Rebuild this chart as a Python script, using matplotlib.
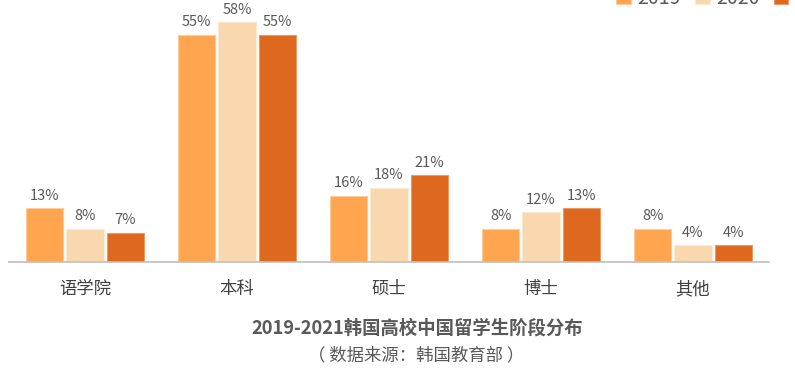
import numpy as np
import matplotlib.pyplot as plt

plt.rcParams['font.family'] = ['Noto Sans CJK SC', 'DejaVu Sans']

# 数据
categories = ['语学院', '本科', '硕士', '博士', '其他']
years = ['2019', '2020', '2021']
v2019 = [13, 55, 16, 8, 8]
v2020 = [8, 58, 18, 12, 4]
v2021 = [7, 55, 21, 13, 4]

colors = ['#FFA54F', '#F9D8B0', '#DD681E']
edges = ['#FFCC99', '#FCE9D2', '#EB9A66']
series = [v2019, v2020, v2021]

fig = plt.figure(figsize=(7.95, 3.71), dpi=100)
ax = fig.add_axes([0.0113, 0.294, 0.956, 0.706])

x = np.arange(len(categories))
w = 0.265
bars = []
for i, vals in enumerate(series):
    b = ax.bar(x + (i - 1) * w, vals, width=w - 0.02, color=colors[i],
               edgecolor=edges[i], linewidth=0.8, label=years[i])
    bars.append(b)
    for rect, v in zip(b, vals):
        ax.annotate(f'{v}%', (rect.get_x() + rect.get_width() / 2, v),
                    xytext=(0, 4), textcoords='offset points',
                    ha='center', va='bottom', fontsize=10.5, color='#595959')

ax.set_xlim(-0.5, 4.5)
ax.set_ylim(0, 63.4)
ax.set_xticks(x)
ax.set_xticklabels(categories, fontsize=12.5, color='#404040')
ax.tick_params(axis='x', length=0, pad=13)
ax.set_yticks([])
for s in ['top', 'right', 'left']:
    ax.spines[s].set_visible(False)
ax.spines['bottom'].set_color('#BFBFBF')
ax.spines['bottom'].set_linewidth(1.2)

fig.legend(handles=bars, labels=years, loc='center left',
           bbox_to_anchor=(0.775, 1.005), ncol=3, frameon=False,
           fontsize=14, handlelength=0.75, handleheight=0.75,
           handletextpad=0.35, columnspacing=0.72, borderaxespad=0,
           borderpad=0, labelcolor='#595959')

fig.text(0.525, 0.115, '2019-2021韩国高校中国留学生阶段分布', ha='center',
         va='center', fontsize=13.2, fontweight='bold', color='#595959')
fig.text(0.523, 0.043, '（ 数据来源：韩国教育部 ）', ha='center',
         va='center', fontsize=12.5, color='#595959')

fig.savefig('out.png', dpi=100)
